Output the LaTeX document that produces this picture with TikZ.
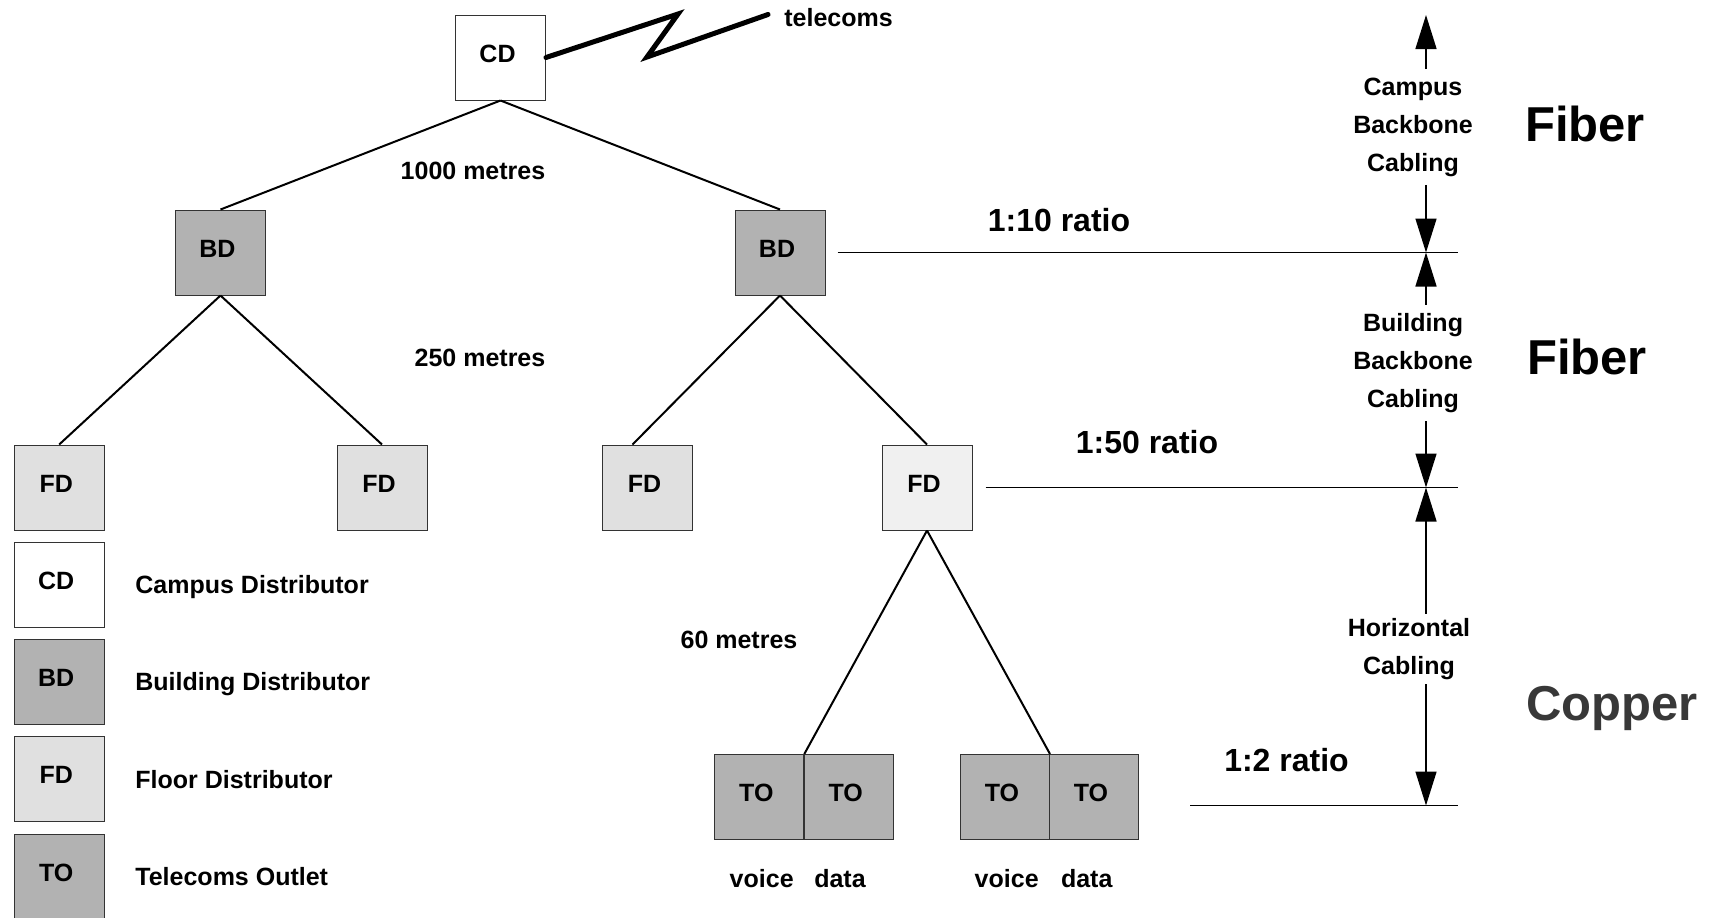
\documentclass[tikz,border=0pt]{standalone}
\usepackage{fontspec}
\setmainfont{Liberation Sans}
\usetikzlibrary{arrows.meta,calc}

\tikzset{
	dist/.style={draw=black!80, line width=0.5pt, minimum width=45pt, minimum height=42.5pt,
		inner sep=0pt, text height=9pt, text depth=4.4pt, font=\fontsize{12.5}{15}\selectfont\bfseries,
		execute at begin node={\hspace*{-3pt}}},
	cdbox/.style={dist, fill=white},
	bdbox/.style={dist, fill=black!30},
	fdbox/.style={dist, fill=black!12},
	tobox/.style={dist, fill=black!30, minimum width=44.5pt},
	lbl/.style={font=\fontsize{12.5}{19}\selectfont\bfseries, inner sep=1pt},
	ratio/.style={font=\fontsize{16}{19}\selectfont\bfseries, inner sep=0pt},
	medium/.style={font=\fontsize{24.5}{28}\selectfont\bfseries, inner sep=0pt},
	link/.style={line width=1pt},
	level/.style={line width=0.8pt},
	dim/.style={line width=0.75pt, -{Triangle[length=17pt,width=10.5pt]}},
}

\begin{document}
\begin{tikzpicture}[x=0.5pt, y=-0.5pt]
	\useasboundingbox (0,0) rectangle (1719,917);

	\node[cdbox] (cd) at (500.5,57.5) {CD};
	\node[lbl, anchor=west] (tel) at (782,17.5) {telecoms};
	\draw[line width=2.5pt, line cap=round, line join=miter] (cd.east) -- (678,14) -- (647,57) -- ([xshift=-7pt,yshift=1.5pt]tel.west);

	\node[bdbox] (bd1) at (220.5,252.5) {BD};
	\node[bdbox] (bd2) at (780,252.5) {BD};
	\draw[link] (cd.south) -- (bd1.north);
	\draw[link] (cd.south) -- (bd2.north);
	\node[lbl] (m1000) at (473,171) {1000 metres};

	\node[fdbox] (fd1) at (59.2,487.5) {FD};
	\node[fdbox] (fd2) at (382,487.5) {FD};
	\node[fdbox] (fd3) at (647.5,487.5) {FD};
	\node[fdbox, fill=black!6] (fd4) at (927,487.5) {FD};
	\draw[link] (bd1.south) -- (fd1.north);
	\draw[link] (bd1.south) -- (fd2.north);
	\draw[link] (bd2.south) -- ([xshift=-7.5pt]fd3.north);
	\draw[link] (bd2.south) -- (fd4.north);
	\node[lbl] (m250) at (480,358) {250 metres};

	\node[tobox] (to1) at (759.3,797) {TO};
	\node[tobox] (to2) at (848.7,797) {TO};
	\node[tobox] (to3) at (1005,797) {TO};
	\node[tobox] (to4) at (1094,797) {TO};
	\draw[link] (fd4.south) -- (to1.north east);
	\draw[link] (fd4.south) -- (to3.north east);
	\node[lbl] (m60) at (739,640) {60 metres};
	\node[lbl] (v1) at (761.7,879) {voice};
	\node[lbl] (d1) at (840,879) {data};
	\node[lbl] (v2) at (1006.7,879) {voice};
	\node[lbl] (d2) at (1086.7,879) {data};

	\node[cdbox] (kcd) at (59.2,585) {CD};
	\node[bdbox] (kbd) at (59.2,682) {BD};
	\node[fdbox] (kfd) at (59.2,779) {FD};
	\node[tobox, minimum width=45pt] (kto) at (59.2,876.5) {TO};
	\node[lbl, anchor=west, inner sep=0pt] at (135,587) {Campus Distributor};
	\node[lbl, anchor=west, inner sep=0pt] at (135,684) {Building Distributor};
	\node[lbl, anchor=west, inner sep=0pt] at (135,780) {Floor Distributor};
	\node[lbl, anchor=west, inner sep=0pt] at (135,877) {Telecoms Outlet};

	\coordinate (top) at (1426,15);
	\coordinate (r10) at (1426,252.5);
	\coordinate (r50) at (1426,487.5);
	\coordinate (r2) at (1426,805.5);
	\coordinate (e10) at (1458,252.5);
	\coordinate (e50) at (1458,487.5);
	\coordinate (e2) at (1458,805.5);
	\coordinate (s2) at (1190,805.5);

	\draw[level] ($(bd2.east)+(12,0)$) -- (e10);
	\draw[level] ($(fd4.east)+(13,0)$) -- (e50);
	\draw[level] (s2) -- (e2);
	\node[ratio] (q10) at (1059,220.5) {1:10 ratio};
	\node[ratio] (q50) at (1147,442) {1:50 ratio};
	\node[ratio] (q2) at (1286.5,760) {1:2 ratio};

	\node[lbl, align=center, inner sep=4pt] (cbb) at (1413,127) {Campus\\Backbone\\Cabling};
	\node[lbl, align=center, inner sep=4pt] (bbb) at (1413,363) {Building\\Backbone\\Cabling};
	\node[lbl, align=center, inner sep=2pt] (hc) at (1409,649) {Horizontal\\Cabling};
	\draw[dim] (cbb.north -| top) -- (top);
	\draw[dim] (cbb.south -| top) -- (r10);
	\draw[dim] (bbb.north -| top) -- (r10);
	\draw[dim] (bbb.south -| top) -- (r50);
	\draw[dim] (hc.north -| top) -- (r50);
	\draw[dim] (hc.south -| top) -- (r2);

	\node[medium] (fib1) at (1585,123.5) {Fiber};
	\node[medium] (fib2) at (1587,356.5) {Fiber};
	\node[medium, text=black!78] (cu) at (1612,708.5) {Copper};
\end{tikzpicture}
\end{document}
